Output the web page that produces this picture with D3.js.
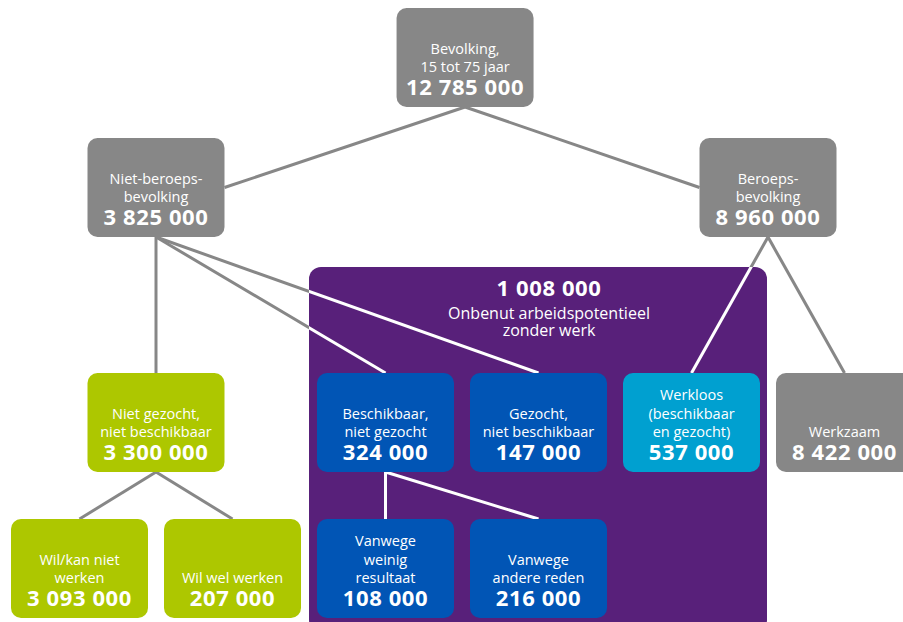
<!DOCTYPE html>
<html>
<head>
<meta charset="utf-8">
<script src="https://cdn.jsdelivr.net/npm/d3@7"></script>
<style>
  html, body { margin: 0; padding: 0; background: #fff; }
  svg { display: block; }
  text { font-family: "Open Sans", "Noto Sans", sans-serif; fill: #fff; }
</style>
</head>
<body>
<div id="chart"></div>
<script>
// ─── data ───────────────────────────────────────
const nodeIds = ['bev', 'nbb', 'bb', 'ngnb', 'bng', 'gnb', 'wl', 'wz', 'wkn', 'wwv', 'vwr', 'var'];
const nodeLabels = [
  ['Bevolking,', '15 tot 75 jaar'],
  ['Niet-beroeps-', 'bevolking'],
  ['Beroeps-', 'bevolking'],
  ['Niet gezocht,', 'niet beschikbaar'],
  ['Beschikbaar,', 'niet gezocht'],
  ['Gezocht,', 'niet beschikbaar'],
  ['Werkloos', '(beschikbaar', 'en gezocht)'],
  ['Werkzaam'],
  ['Wil/kan niet', 'werken'],
  ['Wil wel werken'],
  ['Vanwege', 'weinig', 'resultaat'],
  ['Vanwege', 'andere reden']
];
const nodeValues = [12785000, 3825000, 8960000, 3300000, 324000, 147000, 537000, 8422000, 3093000, 207000, 108000, 216000];
const nodeGroups = ['totaal', 'totaal', 'totaal', 'niet', 'onbenut', 'onbenut', 'werkloos', 'totaal', 'niet', 'niet', 'onbenut', 'onbenut'];
const nodeLevels = [0, 1, 1, 2, 2, 2, 2, 2, 3, 3, 3, 3];
const nodeColumns = [2.52, 0.5, 4.5, 0.5, 2, 3, 4, 5, 0, 1, 2, 3];
const nodeParents = [null, 'bev', 'bev', 'nbb', 'nbb', 'nbb', 'bb', 'bb', 'ngnb', 'ngnb', 'bng', 'bng'];

const groupTitle = 'Onbenut arbeidspotentieel';
const groupTitle2 = 'zonder werk';
const groupValue = 1008000;
const groupMembers = ['bng', 'gnb', 'wl', 'vwr', 'var'];

// ─── setup ──────────────────────────────────────
const W = 903, H = 622;
const boxW = 137, boxH = 99;
const colors = { totaal: '#878787', niet: '#adc700', onbenut: '#0155b5', werkloos: '#00a0d0' };
const purple = '#58207a';
const fmt = d3.formatLocale({ decimal: ',', thousands: ' ', grouping: [3] }).format(',d');

const x = d3.scaleLinear().domain([0, 1]).range([79.5, 232.5]);
const y = d3.scaleOrdinal().domain([0, 1, 2, 3]).range([8, 138, 373, 519]);

const nodes = nodeIds.map((id, i) => ({
  id, labels: nodeLabels[i], value: nodeValues[i], group: nodeGroups[i],
  level: nodeLevels[i], cx: x(nodeColumns[i]), top: y(nodeLevels[i]), parent: nodeParents[i]
}));
const byId = new Map(nodes.map(d => [d.id, d]));
const links = nodes.filter(d => d.parent).map(d => ({ source: byId.get(d.parent), target: d }));

function linkPoints(l) {
  const s = l.source, t = l.target;
  const x1 = s.cx, y1 = s.top + boxH;
  let x2 = t.cx, y2 = t.top;
  if (t.level === 1) { // side attachment
    x2 = t.cx < s.cx ? t.cx + boxW / 2 : t.cx - boxW / 2;
    y2 = t.top + boxH / 2;
  }
  return [x1, y1, x2, y2];
}

const svg = d3.select('#chart').append('svg')
  .attr('width', W).attr('height', H).attr('viewBox', `0 0 ${W} ${H}`);

// group box extents
const members = groupMembers.map(id => byId.get(id));
const gx0 = d3.min(members, d => d.cx - boxW / 2) - 8;
const gx1 = d3.max(members, d => d.cx + boxW / 2) + 7;
const gy0 = d3.min(members, d => d.top) - 106;
const gy1 = d3.max(members, d => d.top + boxH) + 14;

svg.append('defs').append('clipPath').attr('id', 'gclip')
  .append('rect').attr('x', gx0).attr('y', gy0).attr('width', gx1 - gx0).attr('height', gy1 - gy0)
  .attr('rx', 12);

// grey links
const drawLinks = (g, stroke) => g.selectAll('line').data(links).join('line')
  .attr('x1', d => linkPoints(d)[0]).attr('y1', d => linkPoints(d)[1])
  .attr('x2', d => linkPoints(d)[2]).attr('y2', d => linkPoints(d)[3])
  .attr('stroke', stroke).attr('stroke-width', 3);

drawLinks(svg.append('g'), '#878787');

// purple group
svg.append('rect')
  .attr('x', gx0).attr('y', gy0).attr('width', gx1 - gx0).attr('height', gy1 - gy0)
  .attr('rx', 12).attr('fill', purple);

drawLinks(svg.append('g').attr('clip-path', 'url(#gclip)'), '#fff');

const gcx = (gx0 + gx1) / 2 + 11;
svg.append('text').attr('x', gcx).attr('y', gy0 + 29).attr('text-anchor', 'middle')
  .style('font-weight', 700).style('font-size', '22px').style('letter-spacing', '0.6px')
  .text(fmt(groupValue));
svg.append('text').attr('x', gcx).attr('y', gy0 + 52).attr('text-anchor', 'middle')
  .style('font-size', '16px').text(groupTitle);
svg.append('text').attr('x', gcx).attr('y', gy0 + 69).attr('text-anchor', 'middle')
  .style('font-size', '16px').text(groupTitle2);

// boxes
const box = svg.append('g').selectAll('g').data(nodes).join('g')
  .attr('transform', d => `translate(${d.cx},${d.top})`);

box.append('rect')
  .attr('x', -boxW / 2).attr('y', 0).attr('width', boxW).attr('height', boxH)
  .attr('rx', 10).attr('fill', d => colors[d.group]);

box.each(function (d) {
  const g = d3.select(this);
  const n = d.labels.length;
  d.labels.forEach((t, i) => {
    g.append('text').attr('x', 0).attr('y', 64 - (n - 1 - i) * 18.5)
      .attr('text-anchor', 'middle').style('font-size', '14.5px').text(t);
  });
  g.append('text').attr('x', 0).attr('y', 87).attr('text-anchor', 'middle')
    .style('font-weight', 700).style('font-size', '22px').style('letter-spacing', '0.6px')
    .text(fmt(d.value));
});
</script>
</body>
</html>
